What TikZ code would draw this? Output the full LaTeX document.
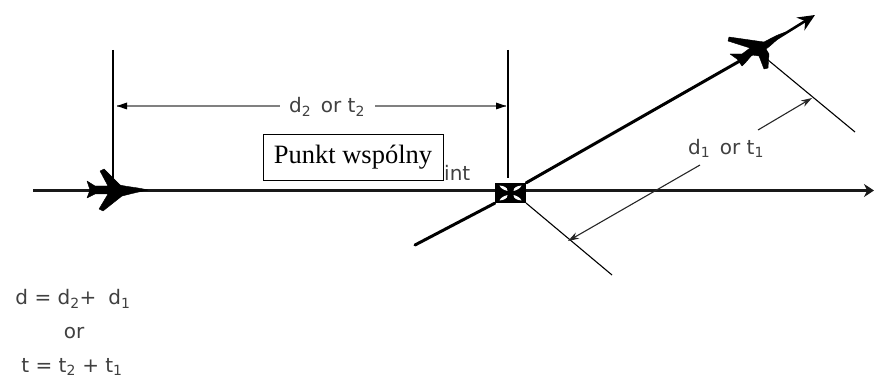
\documentclass[tikz,border=0pt]{standalone}
\usepackage{fontspec}
\setmainfont{DejaVu Sans}
\newfontfamily\boxfont{Liberation Serif}
\usetikzlibrary{arrows.meta}
\definecolor{lbl}{gray}{0.25}
\tikzset{
  x=1pt,y=-1pt,
  heavy/.style={line width=3pt,black,line cap=round},
  mainl/.style={line width=2.2pt,black!90},
  thin line/.style={line width=1.3pt,black},
  dimA/.style={line width=1.5pt,black!50},
  dimB/.style={line width=1.1pt,black!85},
  lab/.style={inner sep=0pt,text=lbl,font=\fontsize{20}{22}\selectfont},
  plane/.style={fill=black,draw=black,line width=.4pt,line join=round}
}
\begin{document}
\begin{tikzpicture}
\useasboundingbox (0,0) rectangle (874,379);
% named points
\coordinate (mainS) at (33,190.5);
\coordinate (mainE) at (874,190.5);
\coordinate (v1T) at (113,50);
\coordinate (v1B) at (113,190);
\coordinate (v2T) at (508,50);
\coordinate (v2B) at (508,178);
\coordinate (diagS) at (415,245);
\coordinate (diagP) at (752,54);
\coordinate (diagE) at (815,15);
\coordinate (p1S) at (526,203);
\coordinate (p1E) at (612,275);
\coordinate (p2S) at (768,60);
\coordinate (p2E) at (855,132);
\coordinate (d1A) at (568,241);
\coordinate (d1B) at (700,165);
\coordinate (d1C) at (758,130);
\coordinate (d1D) at (812,98);
\coordinate (d2A) at (117,106);
\coordinate (d2B) at (506,106);
\coordinate (d2C) at (280,106);
\coordinate (d2D) at (375,106);
% waypoint
\node[fill=black,minimum width=31pt,minimum height=20pt,inner sep=0pt] (wp) at (510.5,193) {};
% main track
\draw[mainl] (mainS) -- (wp.west |- mainS);
\draw[mainl,-{Stealth[length=10pt,width=13pt]}] (wp.east |- mainE) -- (mainE);
% verticals
\draw[thin line] (v1T) -- (v1B);
\draw[thin line] (v2T) -- (v2B);
% diagonal track
\draw[heavy] (diagS) -- (wp.south west);
\draw[heavy] (wp.north east) -- (diagP);
\draw[line width=2.6pt,black,-{Stealth[length=17pt,width=15pt]}] (diagP) -- (diagE);
% perpendicular extension lines
\draw[line width=1.1pt,black] (p1S) -- (p1E);
\draw[line width=1.1pt,black] (p2S) -- (p2E);
% waypoint glyphs
\foreach \sx/\sy in {1/1,-1/1,1/-1,-1/-1}{
  \fill[white] ({510.5+\sx*3},{193+\sy*2}) .. controls ({510.5+\sx*3},{193+\sy*6}) and ({510.5+\sx*7},{193+\sy*7}) .. ({510.5+\sx*11},{193+\sy*7.5})
     .. controls ({510.5+\sx*10},{193+\sy*5}) and ({510.5+\sx*7},{193+\sy*3}) .. ({510.5+\sx*3},{193+\sy*2}) -- cycle;
}
% plane 1
\fill[plane] (148,190) .. controls (135,187) and (128,187) .. (120,185)
  -- (104,169) -- (100,171) -- (108,186) -- (95,186) -- (87,181) -- (90,190)
  -- (87,198) -- (95,194) -- (108,194) -- (99,209) -- (103,211) -- (122,196)
  .. controls (130,194) and (138,192) .. (148,190) -- cycle;
% plane 2
\fill[plane] (786,32) .. controls (776,35) and (770,39) .. (764,42)
  -- (729,37) -- (728,41) -- (750,48) -- (742,54) -- (730,54) -- (737,59)
  -- (742,66) -- (746,62) -- (752,55) -- (759,56) -- (764,69) -- (768,68)
  -- (769,54) -- (766,49) .. controls (772,45) and (778,38) .. (786,32) -- cycle;
% dimension lines
\draw[dimA] (d2A) -- (d2C);
\draw[dimA] (d2D) -- (d2B);
\fill[black] (d2A) -- (127,102.5) -- (127,109.5) -- cycle;
\fill[black] (d2B) -- (496,102.5) -- (496,109.5) -- cycle;
\draw[dimB,{Stealth[length=11pt,width=7pt]}-] (d1A) -- (d1B);
\draw[dimB,-{Stealth[length=11pt,width=7pt]}] (d1C) -- (d1D);
% labels
\node[lab] (lbD2) at (327,107) {d\textsubscript{2} \,or t\textsubscript{2}};
\node[lab] (lbD1) at (726,148) {d\textsubscript{1} \,or t\textsubscript{1}};
\node[lab,anchor=west] (lbInt) at (444,173) {int};
\node[lab] (lbF1) at (73,299) {d = d\textsubscript{2}+ \;d\textsubscript{1}};
\node[lab] (lbOr) at (74,333) {or};
\node[lab] (lbF2) at (72,367) {t = t\textsubscript{2} + t\textsubscript{1}};
% overlaid box
\node[draw=black,fill=white,line width=.9pt,minimum width=180pt,minimum height=46pt,inner sep=0pt,font=\boxfont\fontsize{26.5}{28}\selectfont] (pw) at (353,157) {Punkt wspólny};
\end{tikzpicture}
\end{document}
